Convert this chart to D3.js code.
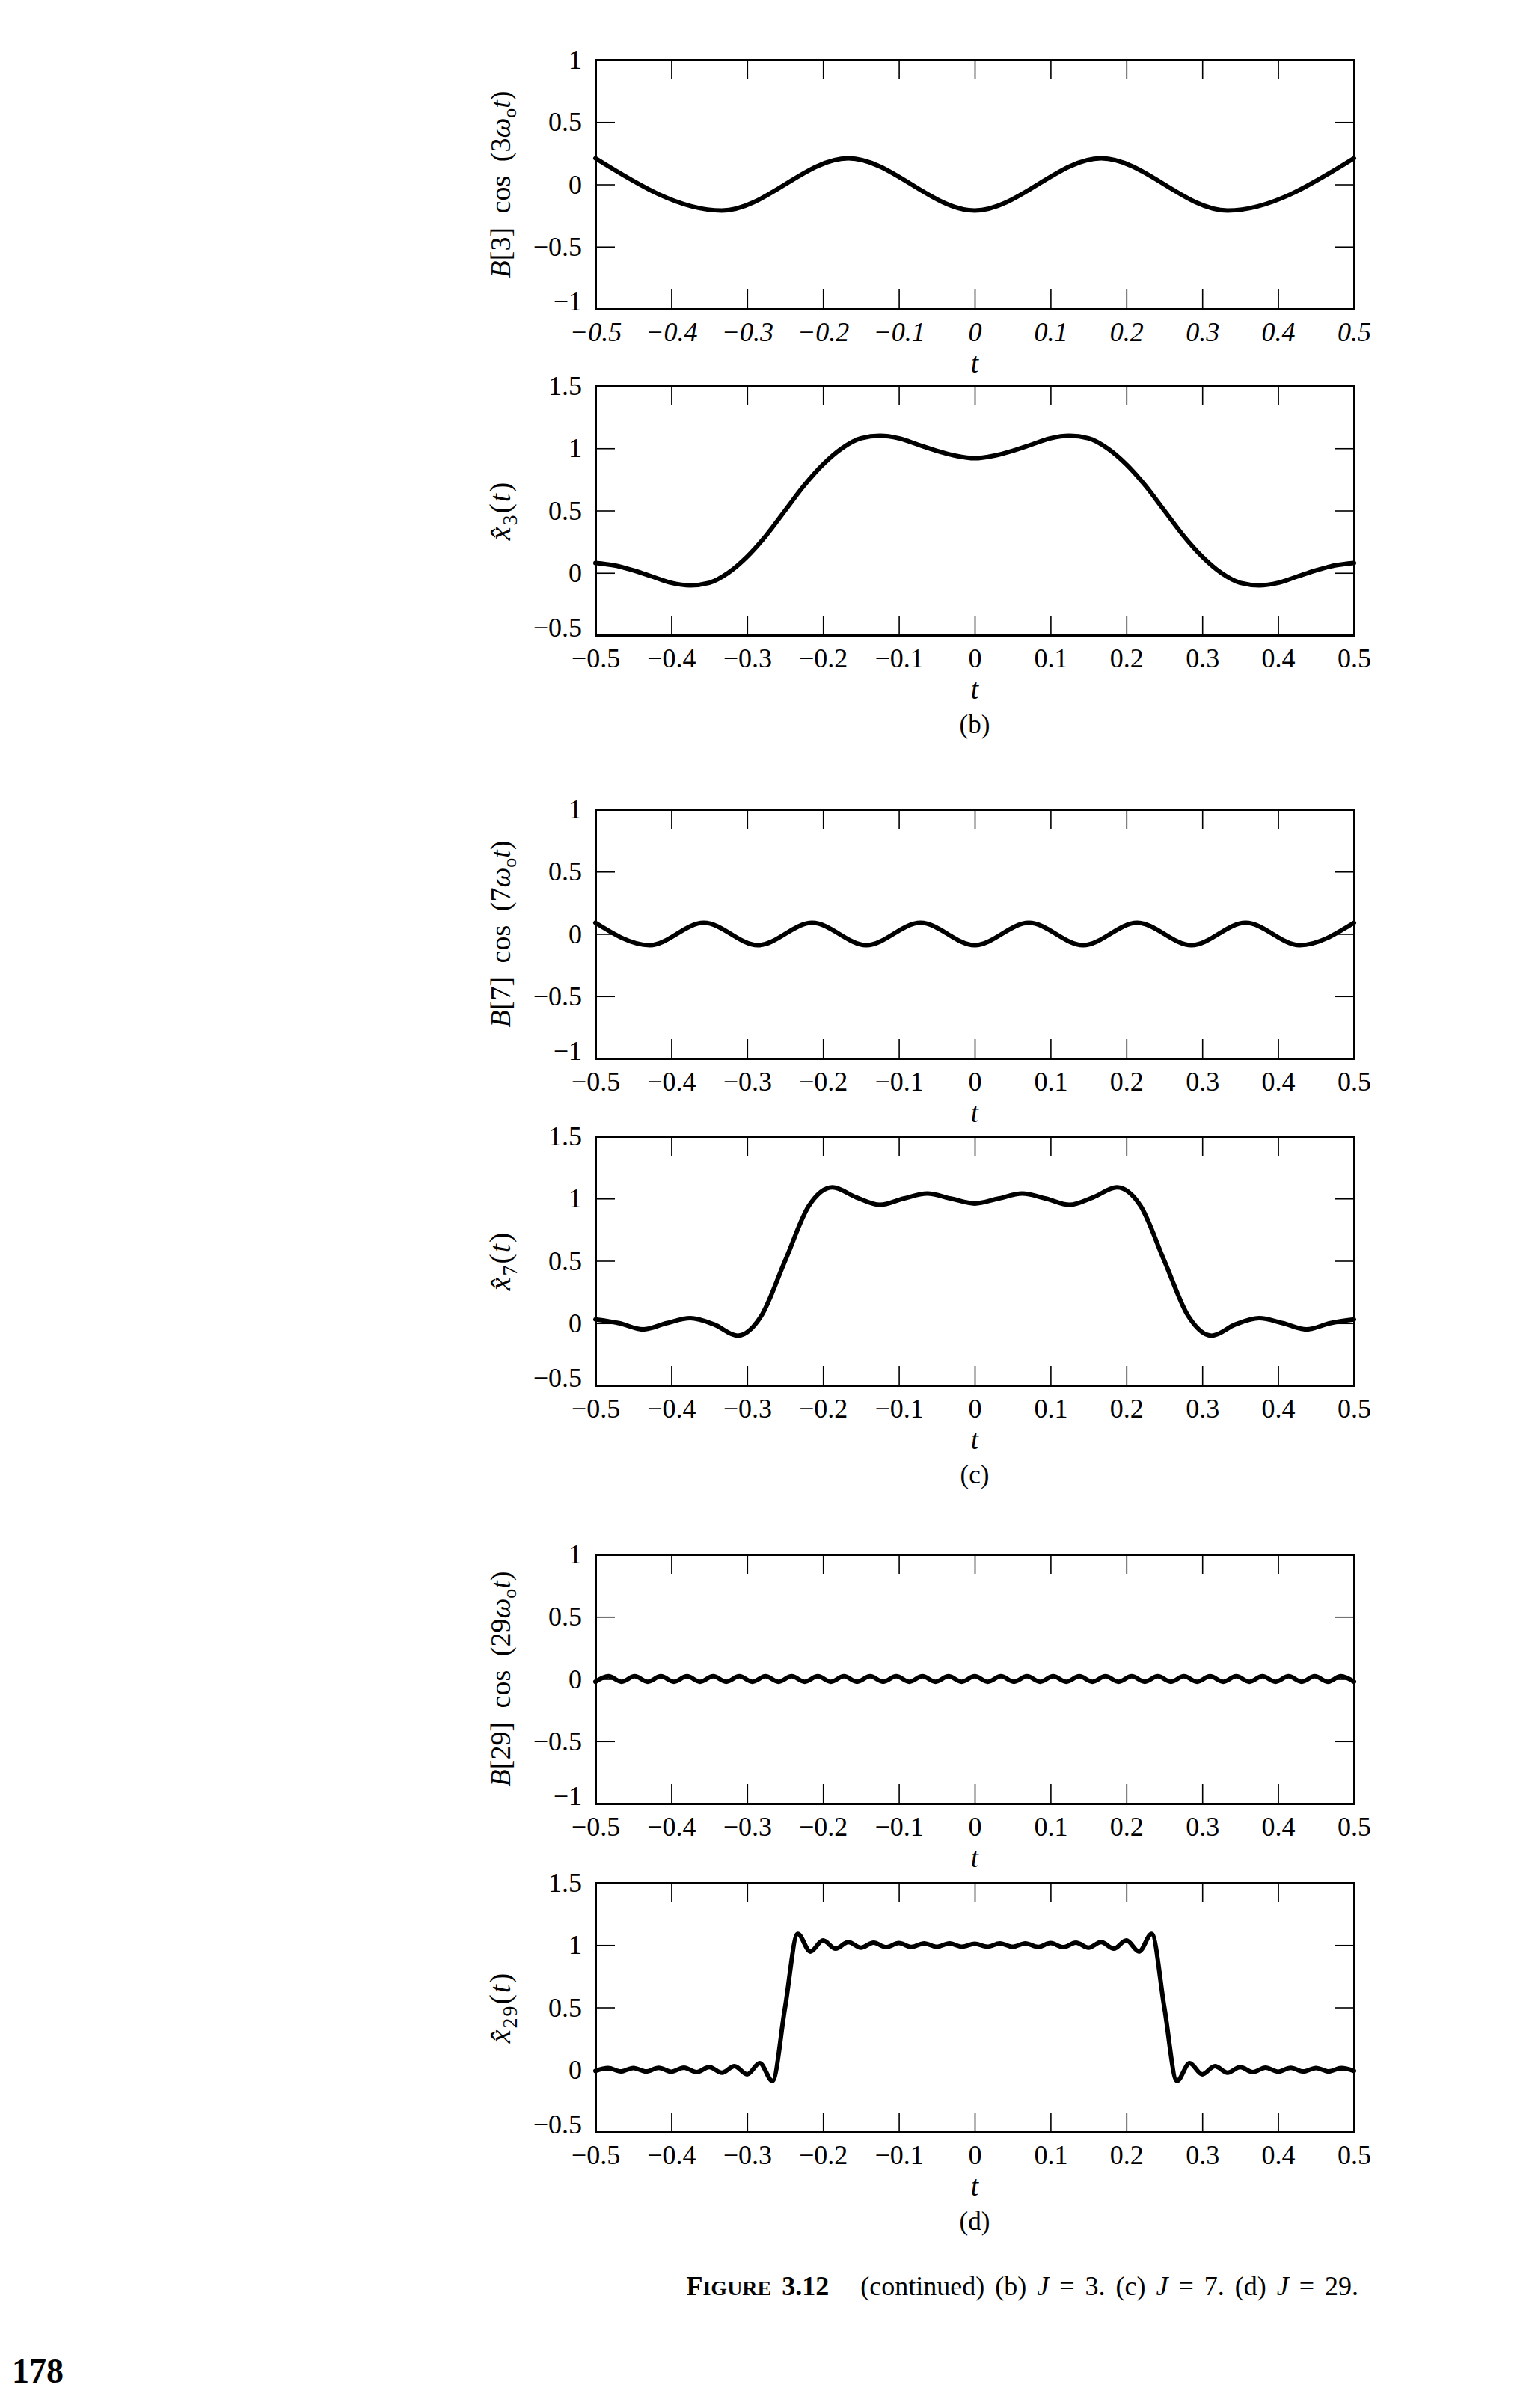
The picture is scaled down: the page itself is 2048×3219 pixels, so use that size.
<!DOCTYPE html>
<html>
<head>
    <title>Figure 3.12 (continued) - partial Fourier sums</title>
    <meta charset="utf-8" />
    <script src="https://cdn.jsdelivr.net/npm/d3@7"></script>
    <style>
        body {
            padding: 0;
            margin: 0;
            background: #fff;
        }
        svg {
            display: block;
            font-family: "Liberation Serif", "Times New Roman", serif;
        }
        .axis .domain {
            stroke: #000;
            stroke-width: 3px;
            stroke-linecap: square;
        }
        .axis .tick line {
            stroke: #000;
            stroke-width: 1.6px;
        }
        .axis text {
            font-family: "Liberation Serif", serif;
            font-size: 36px;
            fill: #000;
        }
        .axis.italic text {
            font-style: italic;
        }
        .curve {
            fill: none;
            stroke: #000;
            stroke-width: 6px;
            stroke-linejoin: round;
            stroke-linecap: round;
        }
        .tlabel {
            font-size: 37px;
            font-style: italic;
        }
        .sublabel {
            font-size: 35px;
        }
        .ylabel {
            font-size: 38px;
            word-spacing: 9px;
        }
        .ylabel.hat {
            font-size: 40px;
            letter-spacing: 2px;
        }
    </style>
</head>
<body>
<svg id="fig" width="2048" height="3219"></svg>
<script>

// tick labels
var tTicks = [-0.5, -0.4, -0.3, -0.2, -0.1, 0, 0.1, 0.2, 0.3, 0.4, 0.5];
var bTicks = [-1, -0.5, 0, 0.5, 1];
var xTicks = [-0.5, 0, 0.5, 1, 1.5];

// B[3] cos(3 w0 t), read at its extrema (every 1/6 from t = -0.5)
var stepB3 = 1 / 6;
var yB3 = [0.21, -0.21, 0.21, -0.21, 0.21, -0.21, 0.21];

// x3(t), read every 0.025 from t = -0.5
var stepX3 = 0.025;
var yX3 = [0.08, 0.06, 0.02, -0.03, -0.08, -0.10, -0.08, 0.00, 0.13, 0.30,
           0.50, 0.70, 0.87, 1.00, 1.08, 1.10, 1.08, 1.03, 0.98, 0.94,
           0.92,
           0.94, 0.98, 1.03, 1.08, 1.10, 1.08, 1.00, 0.87, 0.70, 0.50,
           0.30, 0.13, 0.00, -0.08, -0.10, -0.08, -0.03, 0.02, 0.06, 0.08];

// B[7] cos(7 w0 t), read at its extrema (every 1/14)
var stepB7 = 1 / 14;
var yB7 = [0.09, -0.09, 0.09, -0.09, 0.09, -0.09, 0.09, -0.09,
           0.09, -0.09, 0.09, -0.09, 0.09, -0.09, 0.09];

// x7(t), read every 1/32
var stepX7 = 1 / 32;
var yX7 = [0.03, 0.00, -0.05, 0.00, 0.04, -0.01, -0.10, 0.06,
           0.50, 0.94, 1.09, 1.01, 0.95, 1.00, 1.04, 1.00,
           0.96,
           1.00, 1.04, 1.00, 0.95, 1.01, 1.09, 0.94, 0.50,
           0.06, -0.10, -0.01, 0.04, 0.00, -0.05, 0.00, 0.03];

// B[29] cos(29 w0 t), read at its extrema (every 1/58)
var stepB29 = 1 / 58;
var yB29 = [-0.022, 0.022, -0.022, 0.022, -0.022, 0.022, -0.022, 0.022, -0.022, 0.022,
            -0.022, 0.022, -0.022, 0.022, -0.022, 0.022, -0.022, 0.022, -0.022, 0.022,
            -0.022, 0.022, -0.022, 0.022, -0.022, 0.022, -0.022, 0.022, -0.022, 0.022,
            -0.022, 0.022, -0.022, 0.022, -0.022, 0.022, -0.022, 0.022, -0.022, 0.022,
            -0.022, 0.022, -0.022, 0.022, -0.022, 0.022, -0.022, 0.022, -0.022, 0.022,
            -0.022, 0.022, -0.022, 0.022, -0.022, 0.022, -0.022, 0.022, -0.022];

// x29(t), read every 1/60
var stepX29 = 1 / 60;
var yX29 = [-0.010, 0.013, -0.014, 0.014, -0.014, 0.015, -0.016, 0.017, -0.019, 0.021,
            -0.024, 0.029, -0.037, 0.052, -0.090, 0.500, 1.090, 0.948, 1.037, 0.971,
            1.024, 0.979, 1.019, 0.983, 1.016, 0.985, 1.014, 0.986, 1.014, 0.987,
            1.010,
            0.987, 1.014, 0.986, 1.014, 0.985, 1.016, 0.983, 1.019, 0.979, 1.024,
            0.971, 1.037, 0.948, 1.090, 0.500, -0.090, 0.052, -0.037, 0.029, -0.024,
            0.021, -0.019, 0.017, -0.016, 0.015, -0.014, 0.014, -0.014, 0.013, -0.010];

var svg = d3.select("#fig");

// layout
var left = 796, right = 1810, panelH = 333, tickLen = 26;
var panelTops = [80, 516, 1082, 1519, 2078, 2517];

var panels = [
  { step: stepB3,  values: yB3,  dom: [-1, 1],     ticks: bTicks, label: "B3",  italicT: true },
  { step: stepX3,  values: yX3,  dom: [-0.5, 1.5], ticks: xTicks, label: "x3",  sub: "(b)" },
  { step: stepB7,  values: yB7,  dom: [-1, 1],     ticks: bTicks, label: "B7" },
  { step: stepX7,  values: yX7,  dom: [-0.5, 1.5], ticks: xTicks, label: "x7",  sub: "(c)" },
  { step: stepB29, values: yB29, dom: [-1, 1],     ticks: bTicks, label: "B29" },
  { step: stepX29, values: yX29, dom: [-0.5, 1.5], ticks: xTicks, label: "x29", sub: "(d)" }
];

function fmt(d) {
  return d < 0 ? "\u2212" + (-d) : String(d);
}

var x = d3.scaleLinear().domain([-0.5, 0.5]).range([left, right]);

panels.forEach(function(p, i) {
  var top = panelTops[i];
  var y = d3.scaleLinear().domain(p.dom).range([panelH, 0]);
  var g = svg.append("g").attr("transform", "translate(0," + top + ")");

  // four-sided box with inward ticks
  g.append("g")
      .attr("class", "axis" + (p.italicT ? " italic" : ""))
      .attr("transform", "translate(0," + panelH + ")")
      .call(d3.axisBottom(x).tickValues(tTicks).tickSizeInner(-tickLen).tickSizeOuter(0)
        .tickPadding(17).tickFormat(fmt));
  g.append("g")
      .attr("class", "axis")
      .call(d3.axisTop(x).tickValues(tTicks).tickSizeInner(-tickLen).tickSizeOuter(0)
        .tickFormat(""));
  var yAxis = g.append("g")
      .attr("class", "axis")
      .attr("transform", "translate(" + left + ",0)")
      .call(d3.axisLeft(y).tickValues(p.ticks).tickSizeInner(-tickLen).tickSizeOuter(0)
        .tickPadding(18).tickFormat(fmt));
  // lowest label sits a little higher so it clears the t labels
  yAxis.selectAll(".tick text")
      .filter(function(d) { return d === p.dom[0]; })
      .attr("dy", "0.05em");
  g.append("g")
      .attr("class", "axis")
      .attr("transform", "translate(" + right + ",0)")
      .call(d3.axisRight(y).tickValues(p.ticks).tickSizeInner(-tickLen).tickSizeOuter(0)
        .tickFormat(""));

  // curve
  var pts = p.values.map(function(v, k) { return [-0.5 + k * p.step, v]; });
  g.append("path")
      .datum(pts)
      .attr("class", "curve")
      .attr("d", d3.line()
        .x(function(d) { return x(d[0]); })
        .y(function(d) { return y(d[1]); })
        .curve(d3.curveMonotoneX));

  // t label
  g.append("text")
      .attr("class", "tlabel")
      .attr("x", x(0))
      .attr("y", panelH + 85)
      .attr("text-anchor", "middle")
      .text("t");

  if (p.sub) {
    g.append("text")
        .attr("class", "sublabel")
        .attr("x", x(0))
        .attr("y", panelH + 131)
        .attr("text-anchor", "middle")
        .text(p.sub);
  }

  // y label, rotated
  var isB = p.label.charAt(0) === "B";
  var lab = g.append("text")
      .attr("class", "ylabel" + (isB ? "" : " hat"))
      .attr("transform", "translate(682," + (panelH / 2) + ") rotate(-90)")
      .attr("text-anchor", "middle");
  var n = p.label.replace(/[a-zA-Z]/g, "");
  if (isB) {
    lab.append("tspan").style("font-style", "italic").text("B");
    lab.append("tspan").text("[" + n + "] cos (" + n);
    lab.append("tspan").style("font-style", "italic").text("\u03c9");
    lab.append("tspan").attr("dy", 8).style("font-size", "26px").text("o");
    lab.append("tspan").attr("dy", -8).style("font-style", "italic").text("t");
    lab.append("tspan").text(")");
  } else {
    lab.append("tspan").style("font-style", "italic").text("x\u0302");
    lab.append("tspan").attr("dy", 9).style("font-size", "28px").text(n);
    lab.append("tspan").attr("dy", -9).text("(");
    lab.append("tspan").style("font-style", "italic").text("t");
    lab.append("tspan").text(")");
  }
});

// caption
var cap = svg.append("text")
    .attr("x", 1816)
    .attr("y", 3068)
    .attr("text-anchor", "end")
    .style("font-size", "36px")
    .style("word-spacing", "5px")
    .style("white-space", "pre");
cap.append("tspan").style("font-weight", "bold").text("F");
cap.append("tspan").style("font-weight", "bold").style("font-size", "28px").text("IGURE");
cap.append("tspan").style("font-weight", "bold").text(" 3.12");
cap.append("tspan").text("   (continued) (b) ");
cap.append("tspan").style("font-style", "italic").text("J");
cap.append("tspan").text(" = 3. (c) ");
cap.append("tspan").style("font-style", "italic").text("J");
cap.append("tspan").text(" = 7. (d) ");
cap.append("tspan").style("font-style", "italic").text("J");
cap.append("tspan").text(" = 29.");

// page number
svg.append("text")
    .attr("x", 16)
    .attr("y", 3185)
    .style("font-size", "46px")
    .style("font-weight", "bold")
    .text("178");

</script>
</body>
</html>
